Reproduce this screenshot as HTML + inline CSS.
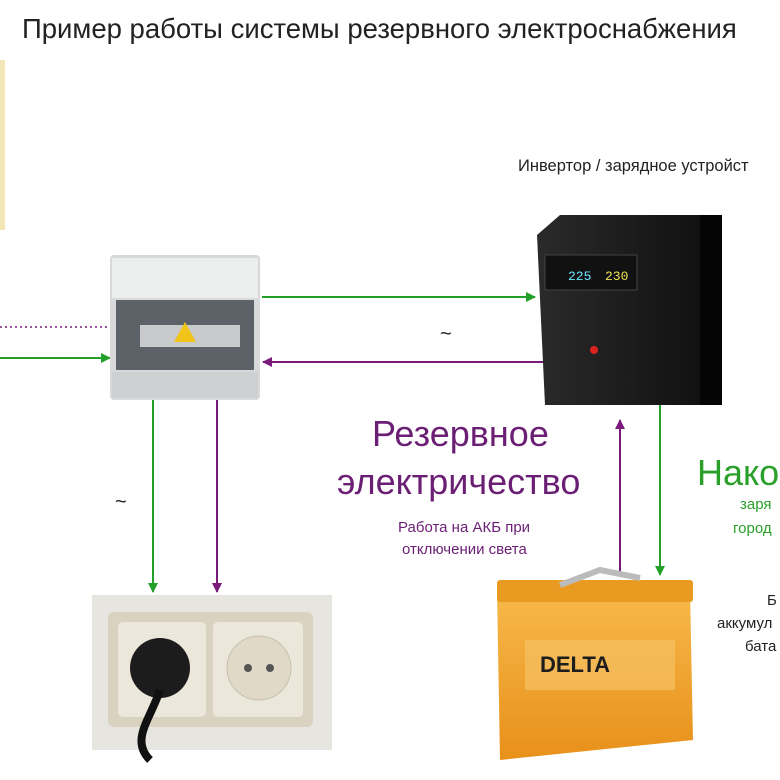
<!DOCTYPE html>
<html><head><meta charset="utf-8"><style>
html,body{margin:0;width:780px;height:780px;overflow:hidden}
body{background:#fff;position:relative;font-family:"Liberation Sans",sans-serif}
.t{position:absolute;white-space:nowrap}
</style></head><body>
<div class="t" style="left:22px;top:13px;font-size:27.5px;color:#222">Пример работы системы резервного электроснабжения</div>
<div class="t" style="left:518px;top:157px;font-size:16.5px;color:#222">Инвертор / зарядное устройст</div>
<div style="position:absolute;left:0;top:60px;width:5px;height:170px;background:#f3e7b8"></div>

<svg width="780" height="780" style="position:absolute;left:0;top:0">
<defs>
<marker id="g" markerWidth="10" markerHeight="10" refX="9" refY="5" orient="auto" markerUnits="userSpaceOnUse"><path d="M0,0L10,5L0,10z" fill="#22a02a"/></marker>
<marker id="p" markerWidth="10" markerHeight="10" refX="9" refY="5" orient="auto" markerUnits="userSpaceOnUse"><path d="M0,0L10,5L0,10z" fill="#7a1a7a"/></marker>
<linearGradient id="bx" x1="0" x2="1"><stop offset="0" stop-color="#2a2a2a"/><stop offset="1" stop-color="#0e0e0e"/></linearGradient>
<linearGradient id="bt" x1="0" y1="0" x2="0" y2="1"><stop offset="0" stop-color="#f7b94a"/><stop offset="1" stop-color="#e8901a"/></linearGradient>
</defs>
<line x1="262" y1="297" x2="535" y2="297" stroke="#22a02a" stroke-width="2" marker-end="url(#g)"/>
<line x1="545" y1="362" x2="263" y2="362" stroke="#7a1a7a" stroke-width="2" marker-end="url(#p)"/>
<line x1="0" y1="327" x2="110" y2="327" stroke="#7a1a7a" stroke-width="1.5" stroke-dasharray="2,3"/>
<line x1="0" y1="358" x2="110" y2="358" stroke="#22a02a" stroke-width="2" marker-end="url(#g)"/>
<line x1="153" y1="400" x2="153" y2="592" stroke="#22a02a" stroke-width="2" marker-end="url(#g)"/>
<line x1="217" y1="400" x2="217" y2="592" stroke="#7a1a7a" stroke-width="2" marker-end="url(#p)"/>
<line x1="620" y1="572" x2="620" y2="420" stroke="#7a1a7a" stroke-width="2" marker-end="url(#p)"/>
<line x1="660" y1="405" x2="660" y2="575" stroke="#22a02a" stroke-width="2" marker-end="url(#g)"/>
<rect x="110" y="255" width="150" height="145" rx="4" fill="#d8d9db"/>
<rect x="112" y="258" width="146" height="40" fill="#eceded"/>
<rect x="116" y="300" width="138" height="70" fill="#5d6268"/>
<rect x="140" y="325" width="100" height="22" fill="#c9cacc"/>
<path d="M185 322L196 342L174 342z" fill="#f2c318"/>
<rect x="112" y="372" width="146" height="26" fill="#cfd0d2"/>
<path d="M537 235L560 215L722 215L722 390L700 405L545 405z" fill="url(#bx)"/>
<rect x="700" y="215" width="22" height="190" fill="#050505"/>
<rect x="545" y="255" width="92" height="35" fill="#111" stroke="#444"/>
<text x="568" y="280" fill="#6ae3ff" font-size="13" font-family="Liberation Mono">225</text>
<text x="605" y="280" fill="#f2e25a" font-size="13" font-family="Liberation Mono">230</text>
<circle cx="594" cy="350" r="4" fill="#d22"/>
<rect x="92" y="595" width="240" height="155" fill="#e7e5e0"/>
<rect x="108" y="612" width="205" height="115" rx="6" fill="#d9d2c1"/>
<rect x="118" y="622" width="88" height="95" rx="5" fill="#ece7db"/>
<rect x="213" y="622" width="90" height="95" rx="5" fill="#ece7db"/>
<circle cx="160" cy="668" r="30" fill="#1c1c1c"/>
<path d="M160 690 C150 720 130 740 150 760" stroke="#111" stroke-width="8" fill="none"/>
<circle cx="259" cy="668" r="32" fill="#e0d9c8" stroke="#c8c0ae"/>
<circle cx="248" cy="668" r="4" fill="#555"/><circle cx="270" cy="668" r="4" fill="#555"/>
<path d="M497 590L690 590L693 740L500 760z" fill="url(#bt)"/>
<rect x="497" y="580" width="196" height="22" rx="3" fill="#e99a20"/>
<path d="M560 585L600 570L640 578" stroke="#bbb" stroke-width="6" fill="none"/>
<rect x="525" y="640" width="150" height="50" fill="#f6c46a" opacity=".6"/>
<text x="540" y="672" font-size="22" font-weight="bold" fill="#1d1d1d" font-family="Liberation Sans">DELTA</text>
<text x="440" y="340" font-size="20" fill="#222">~</text>
<text x="115" y="508" font-size="20" fill="#222">~</text>
</svg>

<div class="t" style="left:372px;top:413px;font-size:36px;color:#6b1f74">Резервное</div>
<div class="t" style="left:337px;top:461px;font-size:36px;color:#6b1f74">электричество</div>
<div class="t" style="left:398px;top:519px;font-size:15px;color:#6b1f74">Работа на АКБ при</div>
<div class="t" style="left:402px;top:541px;font-size:15px;color:#6b1f74">отключении света</div>
<div class="t" style="left:697px;top:452px;font-size:36px;color:#2aa02a">Нако</div>
<div class="t" style="left:740px;top:496px;font-size:15px;color:#2aa02a">заря</div>
<div class="t" style="left:733px;top:520px;font-size:15px;color:#2aa02a">город</div>
<div class="t" style="left:767px;top:592px;font-size:15px;color:#222">Б</div>
<div class="t" style="left:717px;top:615px;font-size:15px;color:#222">аккумул</div>
<div class="t" style="left:745px;top:638px;font-size:15px;color:#222">бата</div>
</body></html>
